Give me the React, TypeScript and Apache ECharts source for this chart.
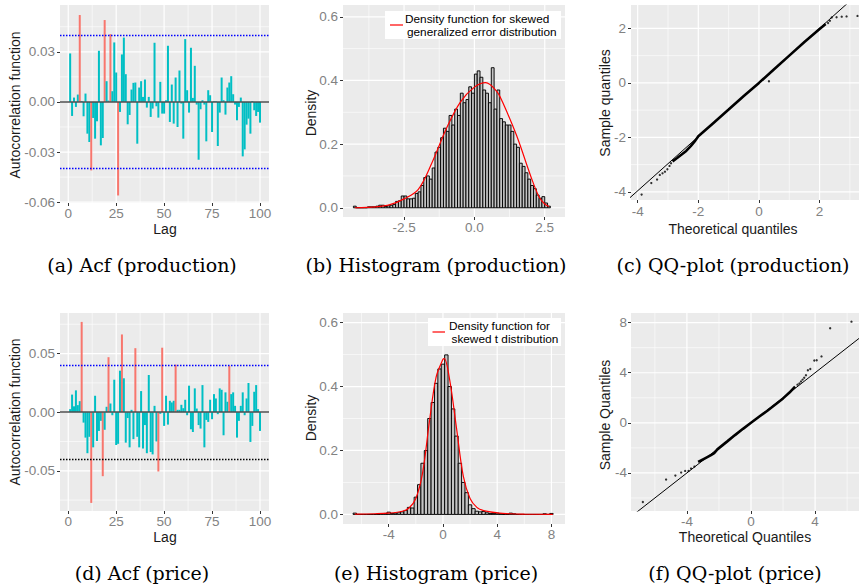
import React, { useEffect, useRef } from "react";
import * as echarts from "echarts";

// ---------------- data ----------------
const acfLags = Array.from({ length: 100 }, (_, i) => i + 1);
const acfBound = 0.0392;

const acfProduction = [
  0.029, -0.0084, 0.0026, -0.003, 0.0044, 0.052, 0.0005, -0.0086, 0.005, -0.019,
  -0.024, -0.041, -0.0096, -0.022, -0.0116, 0.0306, -0.026, -0.0216, 0.049, 0.0124,
  0.0008, 0.0406, 0.0064, 0.0356, 0.0176, -0.056, -0.006, 0.0284, 0.0385, 0.0166,
  -0.0134, -0.0078, 0.0074, 0.0114, 0.0116, -0.025, 0.0086, 0.0124, 0.003, 0.0134,
  -0.0034, 0.003, -0.009, -0.004, 0.0354, -0.0026, -0.0094, 0.012, -0.007, -0.007,
  0.001, 0.0336, -0.012, 0.0104, -0.013, 0.0146, -0.015, 0.0188, -0.001, -0.022,
  0.0376, 0.007, -0.0064, 0.0324, 0.0024, 0.0216, -0.0016, -0.0346, -0.0044, 0.001,
  -0.0016, -0.0236, 0.007, 0.004, -0.018, 0.0004, 0.0004, -0.0264, -0.0064, 0.0146,
  0.001, -0.0076, 0.0086, 0.0116, 0.0154, 0.0046, -0.0016, -0.011, -0.003, 0.0026,
  -0.0326, -0.0284, -0.0136, -0.01, -0.019, 0.0005, -0.005, -0.0084, -0.006, -0.0124,
];

const acfPrice = [
  0.0026, 0.015, 0.005, 0.0186, 0.006, 0.0094, 0.077, -0.0089, -0.0217, -0.035,
  -0.021, -0.0774, -0.03, 0.014, -0.0246, -0.016, -0.0074, -0.0546, -0.015, 0.0046,
  0.0469, 0.0074, -0.0026, 0.0277, -0.028, -0.027, 0.0354, 0.0663, 0.0289, -0.026,
  -0.005, -0.03, 0.002, -0.023, 0.0546, -0.021, -0.03, 0.018, -0.031, -0.011,
  -0.035, 0.0317, -0.034, -0.036, 0.0054, -0.025, -0.0506, -0.0014, 0.055, -0.0117,
  0.014, -0.0106, 0.0097, 0.0083, 0.0097, 0.0406, 0.002, 0.002, 0.0063, 0.0034,
  0.0106, -0.0026, 0.0226, -0.0146, -0.0169, 0.0203, 0.0031, -0.011, -0.014, 0.0231,
  -0.03, -0.0066, -0.0083, 0.0106, -0.006, 0.0154, 0.0117, -0.0017, 0.0203, 0.0191,
  -0.0197, 0.0169, 0.0089, 0.0395, 0.0154, 0.0169, 0.0054, -0.0217, -0.0074, 0.0054,
  0.0169, -0.0026, 0.0117, 0.0249, -0.0254, -0.0117, 0.0174, 0.0231, 0.0026, -0.016,
];

// histogram (production): bins of width 0.1 starting at -4.3
const histProdStart = -4.3;
const histProdWidth = 0.1;
const histProdDensity = [
  0.005, 0, 0, 0, 0, 0.003, 0.003, 0.003, 0.005, 0.008,
  0.008, 0.004, 0.006, 0.008, 0.01, 0.02, 0.022, 0.037, 0.037, 0.028,
  0.028, 0.03, 0.045, 0.05, 0.07, 0.095, 0.1, 0.09, 0.125, 0.175,
  0.19, 0.22, 0.25, 0.24, 0.29, 0.26, 0.31, 0.29, 0.36, 0.33,
  0.34, 0.38, 0.36, 0.42, 0.43, 0.41, 0.37, 0.36, 0.33, 0.44,
  0.31, 0.37, 0.28, 0.27, 0.26, 0.26, 0.24, 0.2, 0.19, 0.14,
  0.13, 0.11, 0.09, 0.07, 0.06, 0.04, 0.03, 0.035, 0.015, 0.005,
];
const sgedCurveX = [-4.25, -3.5, -3.0, -2.5, -2.0, -1.5, -1.0, -0.5, 0, 0.4, 0.8, 1.0, 1.5, 2.0, 2.3, 2.5, 2.65];
const sgedCurveY = [0.0, 0.003, 0.01, 0.028, 0.057, 0.143, 0.248, 0.332, 0.379, 0.393, 0.365, 0.332, 0.227, 0.1, 0.034, 0.012, 0.004];

// histogram (price): bins of width 0.25 starting at -6.625
const histPriceStart = -6.625;
const histPriceWidth = 0.25;
const histPriceDensity = [
  0.004, 0, 0, 0, 0, 0, 0, 0, 0.002, 0.003,
  0.007, 0.003, 0.004, 0.005, 0.008, 0.012, 0.022, 0.02, 0.054, 0.093,
  0.16, 0.2, 0.3, 0.35, 0.41, 0.455, 0.47, 0.499, 0.4, 0.33,
  0.245, 0.16, 0.1, 0.068, 0.03, 0.018, 0.01, 0.008, 0.009, 0.005,
  0.003, 0.003, 0.004, 0.002, 0, 0, 0.004, 0.002, 0, 0,
  0, 0, 0, 0, 0, 0, 0.002, 0, 0.003,
];
const stCurveX = [-6.5, -5, -4, -3, -2.5, -2, -1.5, -1, -0.5, 0, 0.1, 0.5, 1, 1.5, 2, 2.5, 3, 4, 5, 6, 8.1];
const stCurveY = [0.001, 0.002, 0.004, 0.01, 0.02, 0.05, 0.13, 0.29, 0.43, 0.485, 0.487, 0.42, 0.27, 0.12, 0.05, 0.022, 0.012, 0.005, 0.002, 0.001, 0.0];

// QQ (production)
const qqProdLineX = [-4.4, 3.4];
const qqProdLineY = [-4.36, 3.4];
const qqProdBodyX = [-2.85, -2.7, -2.55, -2.4, -2.25, -2.1, -2.0, -1.5, -1.0, -0.5, 0, 0.5, 1.0, 1.5, 2.0, 2.2];
const qqProdBodyY = [-2.88, -2.76, -2.63, -2.5, -2.32, -2.12, -1.96, -1.47, -0.98, -0.48, 0.0, 0.5, 1.0, 1.5, 1.98, 2.16];
const qqProdTailX = [-3.87, -3.55, -3.36, -3.27, -3.18, -3.1, -3.02, -2.95, -2.9, 0.33, 2.28, 2.34, 2.4, 2.56, 2.73, 2.89, 3.25];
const qqProdTailY = [-4.1, -3.68, -3.55, -3.38, -3.32, -3.26, -3.17, -3.05, -2.95, 0.06, 2.2, 2.28, 2.4, 2.41, 2.43, 2.44, 2.46];

// QQ (price)
const qqPriceLineX = [-7.6, 7.0];
const qqPriceLineY = [-7.6, 7.0];
const qqPriceBodyX = [-3.3, -2.9, -2.5, -2.3, -2.1, -1.5, -1.0, -0.5, 0, 0.5, 1.0, 1.5, 2.0, 2.4, 2.75];
const qqPriceBodyY = [-3.12, -2.85, -2.58, -2.42, -2.12, -1.5, -0.98, -0.48, 0, 0.48, 0.95, 1.45, 1.95, 2.42, 2.9];
const qqPriceTailX = [-6.75, -5.3, -4.72, -4.36, -4.11, -3.9, -3.74, -3.53, 2.9, 3.02, 3.12, 3.22, 3.32, 3.43, 3.55, 3.7, 3.95, 4.1, 4.4, 4.94, 6.27];
const qqPriceTailY = [-6.32, -4.53, -4.21, -3.97, -3.84, -3.84, -3.65, -3.49, 3.05, 3.15, 3.3, 3.45, 3.6, 3.8, 4.2, 4.3, 4.98, 5.0, 5.3, 7.55, 8.08];

// tick values
const lagTicks = [0, 25, 50, 75, 100];
const lagMinor = [12.5, 37.5, 62.5, 87.5];
const acfProdTicks = [-0.06, -0.03, 0, 0.03];
const acfProdMinor = [-0.045, -0.015, 0.015, 0.045];
const acfPriceTicks = [-0.05, 0, 0.05];
const acfPriceMinor = [-0.075, -0.025, 0.025, 0.075];
const densTicks = [0, 0.2, 0.4, 0.6];
const densMinor = [0.1, 0.3, 0.5];
const histProdXTicks = [-2.5, 0, 2.5];
const histProdXMinor = [-3.75, -1.25, 1.25];
const histPriceXTicks = [-4, 0, 4, 8];
const histPriceXMinor = [-6, -2, 2, 6];
const qqProdXTicks = [-4, -2, 0, 2];
const qqProdXMinor = [-3, -1, 1, 3];
const qqProdYTicks = [-4, -2, 0, 2];
const qqProdYMinor = [-3, -1, 1];
const qqPriceXTicks = [-4, 0, 4];
const qqPriceXMinor = [-6, -2, 2, 6];
const qqPriceYTicks = [-4, 0, 4, 8];
const qqPriceYMinor = [-6, -2, 2, 6];

// ---------------- styling ----------------
const TEAL = "#00BFC4";
const SALMON = "#F8766D";
const PANEL_BG = "#EBEBEB";
const TICK_TEXT = "#828282";
const SANS = "'Liberation Sans', Arial, Helvetica, sans-serif";
const SERIF = "'DejaVu Serif', serif";

const grids = [
  { left: 60, top: 5, width: 209, height: 198 },
  { left: 343, top: 5, width: 222, height: 212 },
  { left: 631, top: 5, width: 228, height: 195 },
  { left: 60, top: 313, width: 209, height: 198 },
  { left: 343, top: 313, width: 222, height: 211 },
  { left: 631, top: 313, width: 228, height: 198 },
];

const ranges = [
  { x: [-4.3, 104.7], y: [-0.0605, 0.058] },
  { x: [-4.67, 3.22], y: [-0.029, 0.637] },
  { x: [-4.22, 3.3], y: [-4.3, 2.86] },
  { x: [-4.3, 104.7], y: [-0.0843, 0.0846] },
  { x: [-7.37, 9.0], y: [-0.03, 0.63] },
  { x: [-7.49, 6.74], y: [-7.04, 8.77] },
];

function zip(xs: number[], ys: number[]) {
  return xs.map((x, i) => [x, ys[i]]);
}

function histBars(start: number, width: number, dens: number[]) {
  return dens.map((d, i) => [start + i * width, start + (i + 1) * width, d]);
}

function axis(dim: "x" | "y", gridIndex: number, ticks: number[], fmt: (v: number) => string, margin: number) {
  const r = dim === "x" ? ranges[gridIndex].x : ranges[gridIndex].y;
  return {
    type: "value",
    gridIndex,
    min: r[0],
    max: r[1],
    position: dim === "x" ? "bottom" : "left",
    axisLine: { show: false, onZero: false },
    axisTick: { show: true, length: 3, lineStyle: { color: "#333", width: 1 }, customValues: ticks },
    axisLabel: {
      show: true,
      customValues: ticks,
      formatter: (v: number) => fmt(v),
      color: TICK_TEXT,
      fontSize: 13.5,
      fontFamily: SANS,
      margin,
    },
    splitLine: { show: false },
    minorSplitLine: { show: false },
  };
}

// white ggplot grid lines, drawn as broken line series through the axis scales
function gridLines(g: number, xMaj: number[], xMin: number[], yMaj: number[], yMin: number[]) {
  const xr = ranges[g].x;
  const yr = ranges[g].y;
  const seg = (vals: number[], vertical: boolean) => {
    const pts: any[] = [];
    vals.forEach((v) => {
      if (vertical) pts.push([v, yr[0]], [v, yr[1]], [v, null]);
      else pts.push([xr[0], v], [xr[1], v], [null, v]);
    });
    return pts;
  };
  const mk = (pts: any[], w: number) => ({
    type: "line",
    xAxisIndex: g,
    yAxisIndex: g,
    data: pts,
    symbol: "none",
    silent: true,
    connectNulls: false,
    lineStyle: { color: "#FFFFFF", width: w },
    z: 10,
  });
  return [mk(seg(xMin, true).concat(seg(yMin, false)), 0.6), mk(seg(xMaj, true).concat(seg(yMaj, false)), 1.2)];
}

const f2 = (v: number) => v.toFixed(2);
const f1 = (v: number) => v.toFixed(1);
const f0 = (v: number) => String(Math.round(v));

function renderHist(params: any, api: any) {
  const x0 = api.value(0);
  const x1 = api.value(1);
  const h = api.value(2);
  const p0 = api.coord([x0, h]);
  const p1 = api.coord([x1, 0]);
  return {
    type: "rect",
    shape: { x: p0[0], y: p0[1], width: p1[0] - p0[0], height: p1[1] - p0[1] },
    style: { fill: "#C4C4C4", stroke: "#000000", lineWidth: 0.95 },
  };
}

function acfSeries(g: number, vals: number[], lowerColor: string) {
  return {
    type: "bar",
    xAxisIndex: g,
    yAxisIndex: g,
    data: vals.map((v, i) => [acfLags[i], v]),
    barWidth: 2,
    z: 20,
    itemStyle: {
      color: (p: any) => (Math.abs(p.value[1]) > acfBound ? SALMON : TEAL),
    },
    markLine: {
      silent: true,
      z: 30,
      symbol: ["none", "none"],
      label: { show: false },
      emphasis: { disabled: true },
      data: [
        { yAxis: 0, lineStyle: { color: "#4D4D4D", width: 1.7, type: "solid" } },
        { yAxis: acfBound, lineStyle: { color: "#0000FF", width: 1.3, type: [1.5, 1.5] } },
        { yAxis: -acfBound, lineStyle: { color: lowerColor, width: 1.3, type: [1.5, 1.5] } },
      ],
    },
  };
}

function textEl(text: string, x: number, y: number, size: number, family: string, fill: string, rotate = false, align = "center") {
  return {
    type: "text",
    x,
    y,
    rotation: rotate ? Math.PI / 2 : 0,
    style: {
      text,
      fill,
      fontSize: size,
      fontFamily: family,
      align,
      verticalAlign: "middle",
      textAlign: align,
      textVerticalAlign: "middle",
    },
    z: 100,
  };
}

export default function App() {
  const ref = useRef<HTMLDivElement>(null);

  useEffect(() => {
    if (!ref.current) return;
    const chart = echarts.init(ref.current, null, { renderer: "svg" });

    const xAxis: any[] = [
      axis("x", 0, lagTicks, f0, 3),
      axis("x", 1, histProdXTicks, f1, 3),
      axis("x", 2, qqProdXTicks, f0, 4),
      axis("x", 3, lagTicks, f0, 3),
      axis("x", 4, histPriceXTicks, f0, 3),
      axis("x", 5, qqPriceXTicks, f0, 3),
    ];
    const yAxis: any[] = [
      axis("y", 0, acfProdTicks, f2, 5),
      axis("y", 1, densTicks, f1, 5),
      axis("y", 2, qqProdYTicks, f0, 5),
      axis("y", 3, acfPriceTicks, f2, 5),
      axis("y", 4, densTicks, f1, 5),
      axis("y", 5, qqPriceYTicks, f0, 4),
    ];

    const series: any[] = [
      ...gridLines(0, lagTicks, lagMinor, acfProdTicks, acfProdMinor),
      ...gridLines(1, histProdXTicks, histProdXMinor, densTicks, densMinor),
      ...gridLines(2, qqProdXTicks, qqProdXMinor, qqProdYTicks, qqProdYMinor),
      ...gridLines(3, lagTicks, lagMinor, acfPriceTicks, acfPriceMinor),
      ...gridLines(4, histPriceXTicks, histPriceXMinor, densTicks, densMinor),
      ...gridLines(5, qqPriceXTicks, qqPriceXMinor, qqPriceYTicks, qqPriceYMinor),
      acfSeries(0, acfProduction, "#0000FF"),
      acfSeries(3, acfPrice, "#000000"),
      {
        type: "custom",
        xAxisIndex: 1,
        yAxisIndex: 1,
        z: 20,
        data: histBars(histProdStart, histProdWidth, histProdDensity),
        encode: { x: [0, 1], y: 2 },
        renderItem: renderHist,
      },
      {
        type: "line",
        xAxisIndex: 1,
        yAxisIndex: 1,
        data: zip(sgedCurveX, sgedCurveY),
        smooth: 0.35,
        showSymbol: false,
        symbol: "none",
        lineStyle: { color: "#FF0000", width: 1.2 },
        z: 25,
      },
      {
        type: "custom",
        xAxisIndex: 4,
        yAxisIndex: 4,
        z: 20,
        data: histBars(histPriceStart, histPriceWidth, histPriceDensity),
        encode: { x: [0, 1], y: 2 },
        renderItem: renderHist,
      },
      {
        type: "line",
        xAxisIndex: 4,
        yAxisIndex: 4,
        data: zip(stCurveX, stCurveY),
        smooth: 0.35,
        showSymbol: false,
        symbol: "none",
        lineStyle: { color: "#FF0000", width: 1.2 },
        z: 25,
      },
      // QQ production
      {
        type: "line",
        xAxisIndex: 2,
        yAxisIndex: 2,
        data: zip(qqProdLineX, qqProdLineY),
        symbol: "none",
        lineStyle: { color: "#000", width: 1 },
        clip: true,
        z: 21,
      },
      {
        type: "line",
        xAxisIndex: 2,
        yAxisIndex: 2,
        data: zip(qqProdBodyX, qqProdBodyY),
        symbol: "none",
        lineStyle: { color: "#000", width: 2.6 },
        z: 21,
      },
      {
        type: "scatter",
        xAxisIndex: 2,
        yAxisIndex: 2,
        data: zip(qqProdTailX, qqProdTailY),
        symbolSize: 2.3,
        itemStyle: { color: "#000" },
        z: 21,
      },
      // QQ price
      {
        type: "line",
        xAxisIndex: 5,
        yAxisIndex: 5,
        data: zip(qqPriceLineX, qqPriceLineY),
        symbol: "none",
        lineStyle: { color: "#000", width: 1 },
        clip: true,
        z: 21,
      },
      {
        type: "line",
        xAxisIndex: 5,
        yAxisIndex: 5,
        data: zip(qqPriceBodyX, qqPriceBodyY),
        symbol: "none",
        lineStyle: { color: "#000", width: 2.6 },
        z: 21,
      },
      {
        type: "scatter",
        xAxisIndex: 5,
        yAxisIndex: 5,
        data: zip(qqPriceTailX, qqPriceTailY),
        symbolSize: 2.3,
        itemStyle: { color: "#000" },
        z: 21,
      },
    ];

    const graphic: any[] = [
      // axis titles
      textEl("Autocorrelation function", 15, 105, 14, SANS, "#1a1a1a", true),
      textEl("Lag", 165, 229, 14, SANS, "#1a1a1a"),
      textEl("Density", 311, 113, 14, SANS, "#1a1a1a", true),
      textEl("Sample quantiles", 605, 103, 14, SANS, "#1a1a1a", true),
      textEl("Theoretical quantiles", 733, 229, 14, SANS, "#1a1a1a"),
      textEl("Autocorrelation function", 15, 412, 14, SANS, "#1a1a1a", true),
      textEl("Lag", 165, 537, 14, SANS, "#1a1a1a"),
      textEl("Density", 311, 418, 14, SANS, "#1a1a1a", true),
      textEl("Sample Quantiles", 605, 415, 14, SANS, "#1a1a1a", true),
      textEl("Theoretical Quantiles", 745, 537, 14, SANS, "#1a1a1a"),
      // legends
      { type: "rect", shape: { x: 385, y: 11, width: 176, height: 28 }, style: { fill: "#FFFFFF" }, z: 90 },
      { type: "line", shape: { x1: 390, y1: 25, x2: 403, y2: 25 }, style: { stroke: "#FF0000", lineWidth: 1.2 }, z: 91 },
      textEl("Density function for skewed", 405, 19, 11.8, SANS, "#000", false, "left"),
      textEl("generalized error distribution", 407, 32, 11.8, SANS, "#000", false, "left"),
      { type: "rect", shape: { x: 428, y: 318, width: 133, height: 28 }, style: { fill: "#FFFFFF" }, z: 90 },
      { type: "line", shape: { x1: 432.5, y1: 332, x2: 445, y2: 332 }, style: { stroke: "#FF0000", lineWidth: 1.2 }, z: 91 },
      textEl("Density function for", 449, 326, 11.8, SANS, "#000", false, "left"),
      textEl("skewed t distribution", 451.5, 339, 11.8, SANS, "#000", false, "left"),
      // captions
      textEl("(a) Acf (production)", 142, 265, 19, SERIF, "#000"),
      textEl("(b) Histogram (production)", 436, 265, 19, SERIF, "#000"),
      textEl("(c) QQ-plot (production)", 733, 265, 19, SERIF, "#000"),
      textEl("(d) Acf (price)", 142, 573, 19, SERIF, "#000"),
      textEl("(e) Histogram (price)", 436, 573, 19, SERIF, "#000"),
      textEl("(f) QQ-plot (price)", 735, 573, 19, SERIF, "#000"),
    ];

    chart.setOption({
      animation: false,
      backgroundColor: "#FFFFFF",
      grid: grids.map((g) => ({
        ...g,
        show: true,
        backgroundColor: PANEL_BG,
        borderWidth: 0,
      })),
      xAxis,
      yAxis,
      series,
      graphic,
    });

    return () => chart.dispose();
  }, []);

  return (
    <div
      ref={ref}
      style={{ position: "absolute", left: 0, top: 0, width: 859, height: 586, background: "#fff" }}
    />
  );
}
